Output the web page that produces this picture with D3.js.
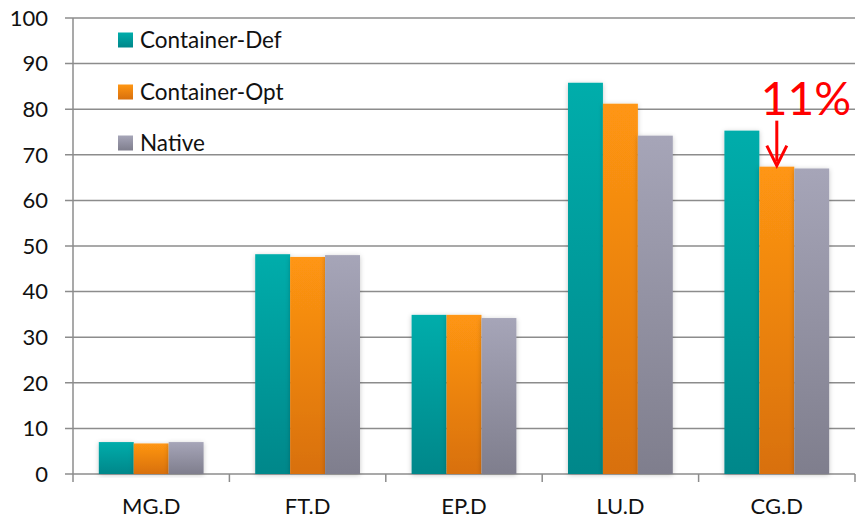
<!DOCTYPE html>
<html>
<head>
<meta charset="utf-8">
<script src="https://cdn.jsdelivr.net/npm/d3@7"></script>
<style>
  body { margin: 0; background: #fff; }
  text { font-family: Lato, "Open Sans", "Liberation Sans", sans-serif; }
</style>
</head>
<body>
<div id="container"></div>
<script>
let width = 856;
let height = 520;

// data
var categories = ['MG.D', 'FT.D', 'EP.D', 'LU.D', 'CG.D'];
var seriesNames = ['Container-Def', 'Container-Opt', 'Native'];
var containerDef = [7.0, 48.2, 34.9, 85.8, 75.3];
var containerOpt = [6.7, 47.6, 34.9, 81.2, 67.4];
var native = [7.0, 48.0, 34.2, 74.2, 67.0];
var yTicks = [0, 10, 20, 30, 40, 50, 60, 70, 80, 90, 100];
var note = '11%';

var seriesColors = [
  {top: '#00adab', bottom: '#00878a'},
  {top: '#ff9612', bottom: '#d8700e'},
  {top: '#a6a5b8', bottom: '#7f7e8d'}
];

let margin = {left: 73, right: 1, top: 18, bottom: 46};

let viz = d3.select("#container").append("svg")
    .attr("width", width)
    .attr("height", height);

let defs = viz.append("defs");
seriesColors.forEach(function(c, i){
  let g = defs.append("linearGradient")
    .attr("id", "grad" + i)
    .attr("x1", 0).attr("y1", 0).attr("x2", 0).attr("y2", 1);
  g.append("stop").attr("offset", "0%").attr("stop-color", c.top);
  g.append("stop").attr("offset", "100%").attr("stop-color", c.bottom);
});

let shadow = defs.append("filter").attr("id", "shadow")
  .attr("x", "-30%").attr("y", "-10%").attr("width", "160%").attr("height", "120%");
shadow.append("feDropShadow")
  .attr("dx", 0).attr("dy", 1).attr("stdDeviation", 2.5)
  .attr("flood-color", "#000").attr("flood-opacity", 0.22);

let y = d3.scaleLinear()
  .domain([0, 100])
  .range([height - margin.bottom, margin.top]);

let x0 = d3.scaleBand()
  .domain(categories)
  .range([margin.left, width - margin.right])
  .padding(0);

let x1 = d3.scaleBand()
  .domain(seriesNames)
  .range([x0.bandwidth() * 0.165, x0.bandwidth() * 0.835])
  .padding(0);

// gridlines
viz.append("g")
  .selectAll("line")
  .data(yTicks)
  .enter().append("line")
  .attr("x1", margin.left - 8)
  .attr("x2", width - margin.right)
  .attr("y1", function(d){ return y(d); })
  .attr("y2", function(d){ return y(d); })
  .attr("stroke", "#8c8c8c")
  .attr("stroke-width", 1.5);

// y labels
viz.append("g")
  .selectAll("text")
  .data(yTicks)
  .enter().append("text")
  .attr("x", margin.left - 25)
  .attr("y", function(d){ return y(d); })
  .attr("dy", "0.35em")
  .attr("text-anchor", "end")
  .style("font-size", "22px")
  .style("fill", "#111")
  .text(function(d){ return d; });

// y axis line
viz.append("line")
  .attr("x1", margin.left).attr("x2", margin.left)
  .attr("y1", y(100)).attr("y2", y(0) + 8)
  .attr("stroke", "#8c8c8c").attr("stroke-width", 1.5);

// category ticks
let catTicks = categories.map(function(c){ return x0(c); });
catTicks.push(x0(categories[categories.length - 1]) + x0.bandwidth());
viz.append("g")
  .selectAll("line")
  .data(catTicks.slice(1))
  .enter().append("line")
  .attr("x1", function(d){ return d; })
  .attr("x2", function(d){ return d; })
  .attr("y1", y(0)).attr("y2", y(0) + 8)
  .attr("stroke", "#8c8c8c").attr("stroke-width", 1.5);

// bars
let table = categories.map(function(c, i){
  return {cat: c, values: [containerDef[i], containerOpt[i], native[i]]};
});

let groups = viz.selectAll(".grp")
  .data(table)
  .enter().append("g")
  .attr("class", "grp")
  .attr("transform", function(d){ return "translate(" + x0(d.cat) + ",0)"; });

groups.selectAll("rect")
  .data(function(d){ return d.values.map(function(v, j){ return {name: seriesNames[j], v: v, j: j}; }); })
  .enter().append("rect")
  .attr("x", function(d){ return x1(d.name); })
  .attr("width", x1.bandwidth())
  .attr("y", function(d){ return y(d.v); })
  .attr("height", function(d){ return y(0) - y(d.v); })
  .attr("fill", function(d){ return "url(#grad" + d.j + ")"; })
  .attr("filter", "url(#shadow)");

// category labels
viz.append("g")
  .selectAll("text")
  .data(categories)
  .enter().append("text")
  .attr("x", function(d){ return x0(d) + x0.bandwidth() / 2; })
  .attr("y", 514)
  .attr("text-anchor", "middle")
  .style("font-size", "22px")
  .style("fill", "#111")
  .text(function(d){ return d; });

// legend
let legendRows = [40, 92, 143];
let legend = viz.append("g").selectAll("g")
  .data(seriesNames)
  .enter().append("g");
legend.append("rect")
  .attr("x", 118)
  .attr("y", function(d, i){ return legendRows[i] - 7.5; })
  .attr("width", 15).attr("height", 15)
  .attr("fill", function(d, i){ return "url(#grad" + i + ")"; });
legend.append("text")
  .attr("x", 140)
  .attr("y", function(d, i){ return legendRows[i]; })
  .attr("dy", "0.36em")
  .style("font-size", "22.5px")
  .style("fill", "#111")
  .text(function(d){ return d; });

// annotation on CG.D
let lastIdx = categories.length - 1;
let ax = x0(categories[lastIdx]) + x1(seriesNames[1]) + x1.bandwidth() / 2;
let aTop = y(containerOpt[lastIdx]) - 46;
let aBot = y(containerOpt[lastIdx]) - 1;
viz.append("line")
  .attr("x1", ax).attr("x2", ax)
  .attr("y1", aTop).attr("y2", aBot - 4)
  .attr("stroke", "#ff0000").attr("stroke-width", 3);
viz.append("path")
  .attr("d", "M" + (ax - 10) + "," + (aBot - 20) + " L" + ax + "," + aBot + " L" + (ax + 10) + "," + (aBot - 20))
  .attr("fill", "none")
  .attr("stroke", "#ff0000").attr("stroke-width", 3);
viz.append("text")
  .attr("x", ax - 16)
  .attr("y", 115)
  .style("font-size", "46px")
  .style("fill", "#ff0000")
  .text(note);
</script>
</body>
</html>
